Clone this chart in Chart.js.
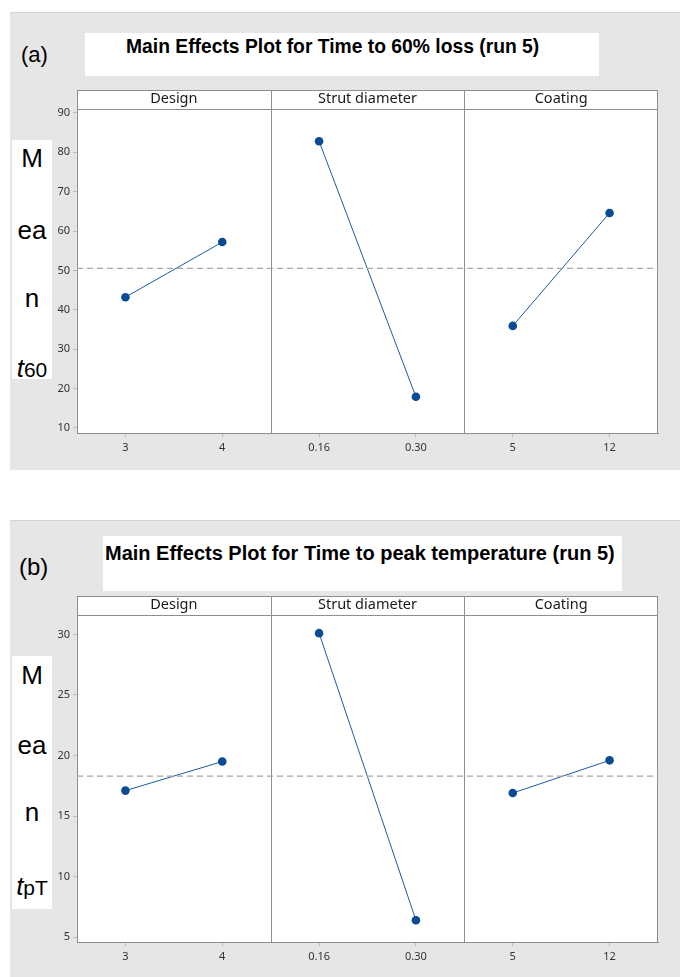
<!DOCTYPE html>
<html>
<head>
<meta charset="utf-8">
<script src="https://cdn.jsdelivr.net/npm/chart.js@4"></script>
<style>
  body { margin: 0; width: 680px; height: 977px; background: #fff; position: relative; overflow: hidden; font-family: "Liberation Sans", Arial, sans-serif; }
  .panel { position: absolute; left: 10px; width: 670px; background: #e6e6e6; border-top: 1px solid #d2d2d2; }
  .title { position: absolute; background: #fff; font-weight: bold; color: #000; white-space: nowrap; }
  .title span { position: absolute; line-height: 22px; }
  .tag { position: absolute; color: #000; }
  .ylab { position: absolute; left: 12px; width: 40px; background: #fff; }
  .ylab div { position: absolute; width: 40px; text-align: center; font-size: 26px; line-height: 26px; }
  .box { position: absolute; left: 40px; width: 640px; height: 385px; }
</style>
</head>
<body>

<div class="panel" style="top:12px;height:457px"></div>
<div class="panel" style="top:520px;height:457px"></div>

<div class="tag" style="left:21px;top:42px;font-size:22px">(a)</div>
<div class="title" style="left:85px;top:33px;width:514px;height:43px;font-size:19.3px">
  <span style="left:41px;top:3px">Main Effects Plot for Time to 60% loss (run 5)</span>
</div>

<div class="tag" style="left:19px;top:553px;font-size:24px">(b)</div>
<div class="title" style="left:103px;top:536px;width:519px;height:55px;font-size:20px">
  <span style="left:2px;top:6px">Main Effects Plot for Time to peak temperature (run 5)</span>
</div>

<div class="ylab" style="top:140px;height:239px">
  <div style="top:5px">M</div>
  <div style="top:77px">ea</div>
  <div style="top:145px">n</div>
  <div style="top:215px"><i>t</i><span style="font-size:21px">60</span></div>
</div>
<div class="ylab" style="top:656px;height:253px">
  <div style="top:6px">M</div>
  <div style="top:76px">ea</div>
  <div style="top:143px">n</div>
  <div style="top:217px"><i>t</i><span style="font-size:21px">pT</span></div>
</div>

<div class="box" style="top:85px"><canvas id="chartA"></canvas></div>
<div class="box" style="top:592px"><canvas id="chartB"></canvas></div>

<script>
// factors and levels
const factors = ['Design', 'Strut diameter', 'Coating'];
const levelLabels = [['3', '4'], ['0.16', '0.30'], ['5', '12']];

// (a) mean time to 60% loss
const t60Means = [[43.2, 57.2], [82.8, 17.9], [35.9, 64.6]];
const t60Grand = 50.5;
const t60Ticks = [10, 20, 30, 40, 50, 60, 70, 80, 90];
const t60Range = [8.7, 91.0];

// (b) mean time to peak temperature
const tpTMeans = [[17.1, 19.5], [30.1, 6.4], [16.9, 19.6]];
const tpTGrand = 18.3;
const tpTTicks = [5, 10, 15, 20, 25, 30];
const tpTRange = [4.6, 31.6];

const levelPos = [0.5, 1.5, 2.5, 3.5, 4.5, 5.5];
const flatLabels = levelLabels.flat();
const frameColor = '#8e8e8e';
const tickFont = { family: 'Noto Sans', size: 11 };

// header strip, panel dividers and frame
const panelsPlugin = {
  id: 'panels',
  beforeDraw(chart) {
    const { ctx, chartArea: a } = chart;
    ctx.save();
    ctx.fillStyle = '#fff';
    ctx.fillRect(a.left, a.top - 19, a.right - a.left, a.bottom - a.top + 19);
    ctx.restore();
  },
  beforeDatasetsDraw(chart) {
    const { ctx, chartArea: a, scales: { x } } = chart;
    ctx.save();
    ctx.strokeStyle = frameColor;
    ctx.lineWidth = 1;
    ctx.strokeRect(a.left + 0.5, a.top - 19 + 0.5, a.right - a.left - 1, a.bottom - a.top + 19);
    ctx.beginPath();
    ctx.moveTo(a.left, a.top + 0.5);
    ctx.lineTo(a.right, a.top + 0.5);
    [2, 4].forEach(v => {
      const px = Math.round(x.getPixelForValue(v)) + 0.5;
      ctx.moveTo(px, a.top - 19);
      ctx.lineTo(px, a.bottom);
    });
    ctx.stroke();
    ctx.fillStyle = '#1a1a1a';
    ctx.font = '14.5px "Noto Sans"';
    ctx.textAlign = 'center';
    ctx.textBaseline = 'middle';
    factors.forEach((f, i) => {
      ctx.fillText(f, x.getPixelForValue(i * 2 + 1), a.top - 10);
    });
    ctx.restore();
  }
};

function makeChart(id, means, grand, yTicks, yRange, padTop, padBottom) {
  const datasets = means.map((m, i) => ({
    data: m.map((v, k) => ({ x: i * 2 + k + 0.5, y: v })),
    borderColor: '#1d5aa6',
    borderWidth: 1,
    pointRadius: 4.3,
    pointBackgroundColor: '#0b4a94',
    pointBorderWidth: 0
  }));
  datasets.unshift({
    data: [{ x: 0, y: grand }, { x: 6, y: grand }],
    borderColor: '#a6a6a6',
    borderWidth: 1.2,
    borderDash: [6, 4],
    pointRadius: 0
  });
  return new Chart(document.getElementById(id), {
    type: 'scatter',
    data: { datasets: datasets.map(d => Object.assign({ showLine: true }, d)) },
    options: {
      responsive: true,
      maintainAspectRatio: false,
      animation: false,
      layout: { padding: { left: 9, right: 22, top: padTop, bottom: padBottom } },
      plugins: { legend: { display: false }, tooltip: { enabled: false } },
      scales: {
        x: {
          type: 'linear', min: 0, max: 6,
          afterBuildTicks: ax => { ax.ticks = levelPos.map(v => ({ value: v })); },
          afterFit: ax => { ax.height = 24; },
          ticks: {
            callback: v => flatLabels[levelPos.indexOf(v)],
            font: tickFont, color: '#333', padding: 4, maxRotation: 0
          },
          grid: { drawOnChartArea: false, tickLength: 4, color: '#bbb' },
          border: { color: frameColor }
        },
        y: {
          min: yRange[0], max: yRange[1],
          afterBuildTicks: ax => { ax.ticks = yTicks.map(v => ({ value: v })); },
          afterFit: ax => { ax.width = 28; },
          ticks: { font: tickFont, color: '#333', padding: 3 },
          grid: { drawOnChartArea: false, tickLength: 4, color: '#bbb' },
          border: { color: frameColor }
        }
      }
    },
    plugins: [panelsPlugin]
  });
}

makeChart('chartA', t60Means, t60Grand, t60Ticks, t60Range, 24, 13);
makeChart('chartB', tpTMeans, tpTGrand, tpTTicks, tpTRange, 23, 11);
</script>
</body>
</html>
